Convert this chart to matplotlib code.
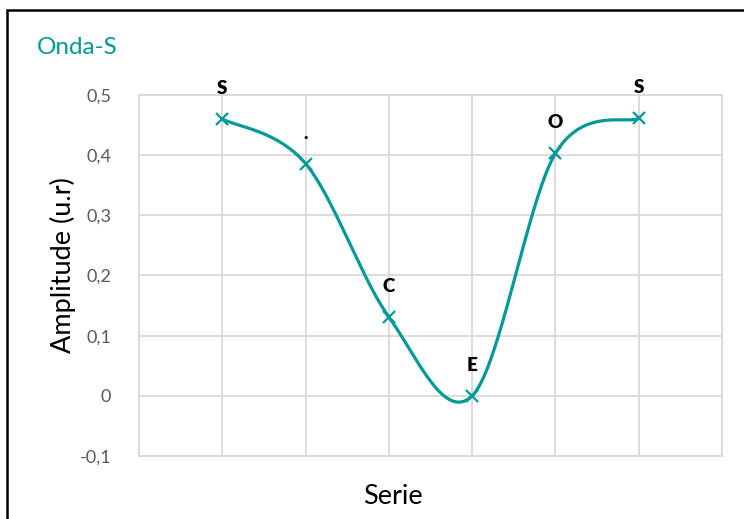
import matplotlib
matplotlib.use('Agg')
import matplotlib.pyplot as plt
from matplotlib.patches import Rectangle
import numpy as np

plt.rcParams['font.family'] = ['Lato', 'DejaVu Sans']

# dados da serie
pontos = [1, 2, 3, 4, 5, 6]
amplitude = [0.46, 0.386, 0.131, 0.0, 0.403, 0.461]
rotulos = ['S', '.', 'C', 'E', 'O', 'S']
y_ticks = [-0.1, 0, 0.1, 0.2, 0.3, 0.4, 0.5]
y_tick_labels = ['-0,1', '0', '0,1', '0,2', '0,3', '0,4', '0,5']

COR = '#009a97'


def suavizar(x, y, n=40):
    # curva suavizada tipo Excel (Bezier Catmull-Rom)
    x = np.asarray(x, float)
    y = np.asarray(y, float)
    px = np.concatenate([[x[0]], x, [x[-1]]])
    py = np.concatenate([[y[0]], y, [y[-1]]])
    xs, ys = [], []
    t = np.linspace(0, 1, n)
    for i in range(1, len(px) - 2):
        p0 = np.array([px[i - 1], py[i - 1]])
        p1 = np.array([px[i], py[i]])
        p2 = np.array([px[i + 1], py[i + 1]])
        p3 = np.array([px[i + 2], py[i + 2]])
        b1 = p1 + (p2 - p0) / 6
        b2 = p2 - (p3 - p1) / 6
        c = ((1 - t) ** 3)[:, None] * p1 + (3 * (1 - t) ** 2 * t)[:, None] * b1 \
            + (3 * (1 - t) * t ** 2)[:, None] * b2 + (t ** 3)[:, None] * p2
        xs.extend(c[:, 0])
        ys.extend(c[:, 1])
    return np.array(xs), np.array(ys)


fig = plt.figure(figsize=(7.44, 5.19), dpi=100)
ax = fig.add_axes([139 / 744, 63 / 519, 583 / 744, 361 / 519])

sx, sy = suavizar(pontos, amplitude)
ax.plot(sx, sy, color=COR, linewidth=2.3, zorder=3, solid_capstyle='round')
ax.plot(pontos, amplitude, linestyle='none', marker='x', markersize=9,
        markeredgewidth=1.6, color=COR, zorder=4)

for x, y, r in zip(pontos, amplitude, rotulos):
    ax.annotate(r, (x, y), xytext=(0, 22), textcoords='offset points',
                ha='center', va='center', fontsize=13.5, fontweight='heavy', color='black')

ax.set_xlim(0, 7)
ax.set_ylim(-0.1, 0.5)
ax.set_yticks(y_ticks)
ax.set_yticklabels(y_tick_labels)
ax.set_xticks(range(0, 8))
ax.set_xticklabels([])
ax.tick_params(axis='y', length=0, pad=20, labelsize=13, labelcolor='#595959')
ax.tick_params(axis='x', length=0)
ax.grid(True, color='#d9d9d9', linewidth=1.3)
ax.set_axisbelow(True)
for s in ax.spines.values():
    s.set_color('#d9d9d9')
    s.set_linewidth(1.3)

fig.text(63 / 744, 1 - 265 / 519, 'Amplitude (u.r)', fontsize=19.5, color='black',
         rotation=90, ha='center', va='center')
fig.text(393 / 744, 1 - 496 / 519, 'Serie', fontsize=19.5, color='black',
         ha='center', va='center')

fig.text(37 / 744, 1 - 47 / 519, 'Onda-S', fontsize=17.5, color=COR, ha='left', va='center')

# moldura do grafico
fig.patches.append(Rectangle((7 / 744, -0.1), 1.2, 1 - 10 / 519 + 0.1,
                             transform=fig.transFigure, fill=False,
                             edgecolor='black', linewidth=1.8))

fig.savefig('out.png', dpi=100)
